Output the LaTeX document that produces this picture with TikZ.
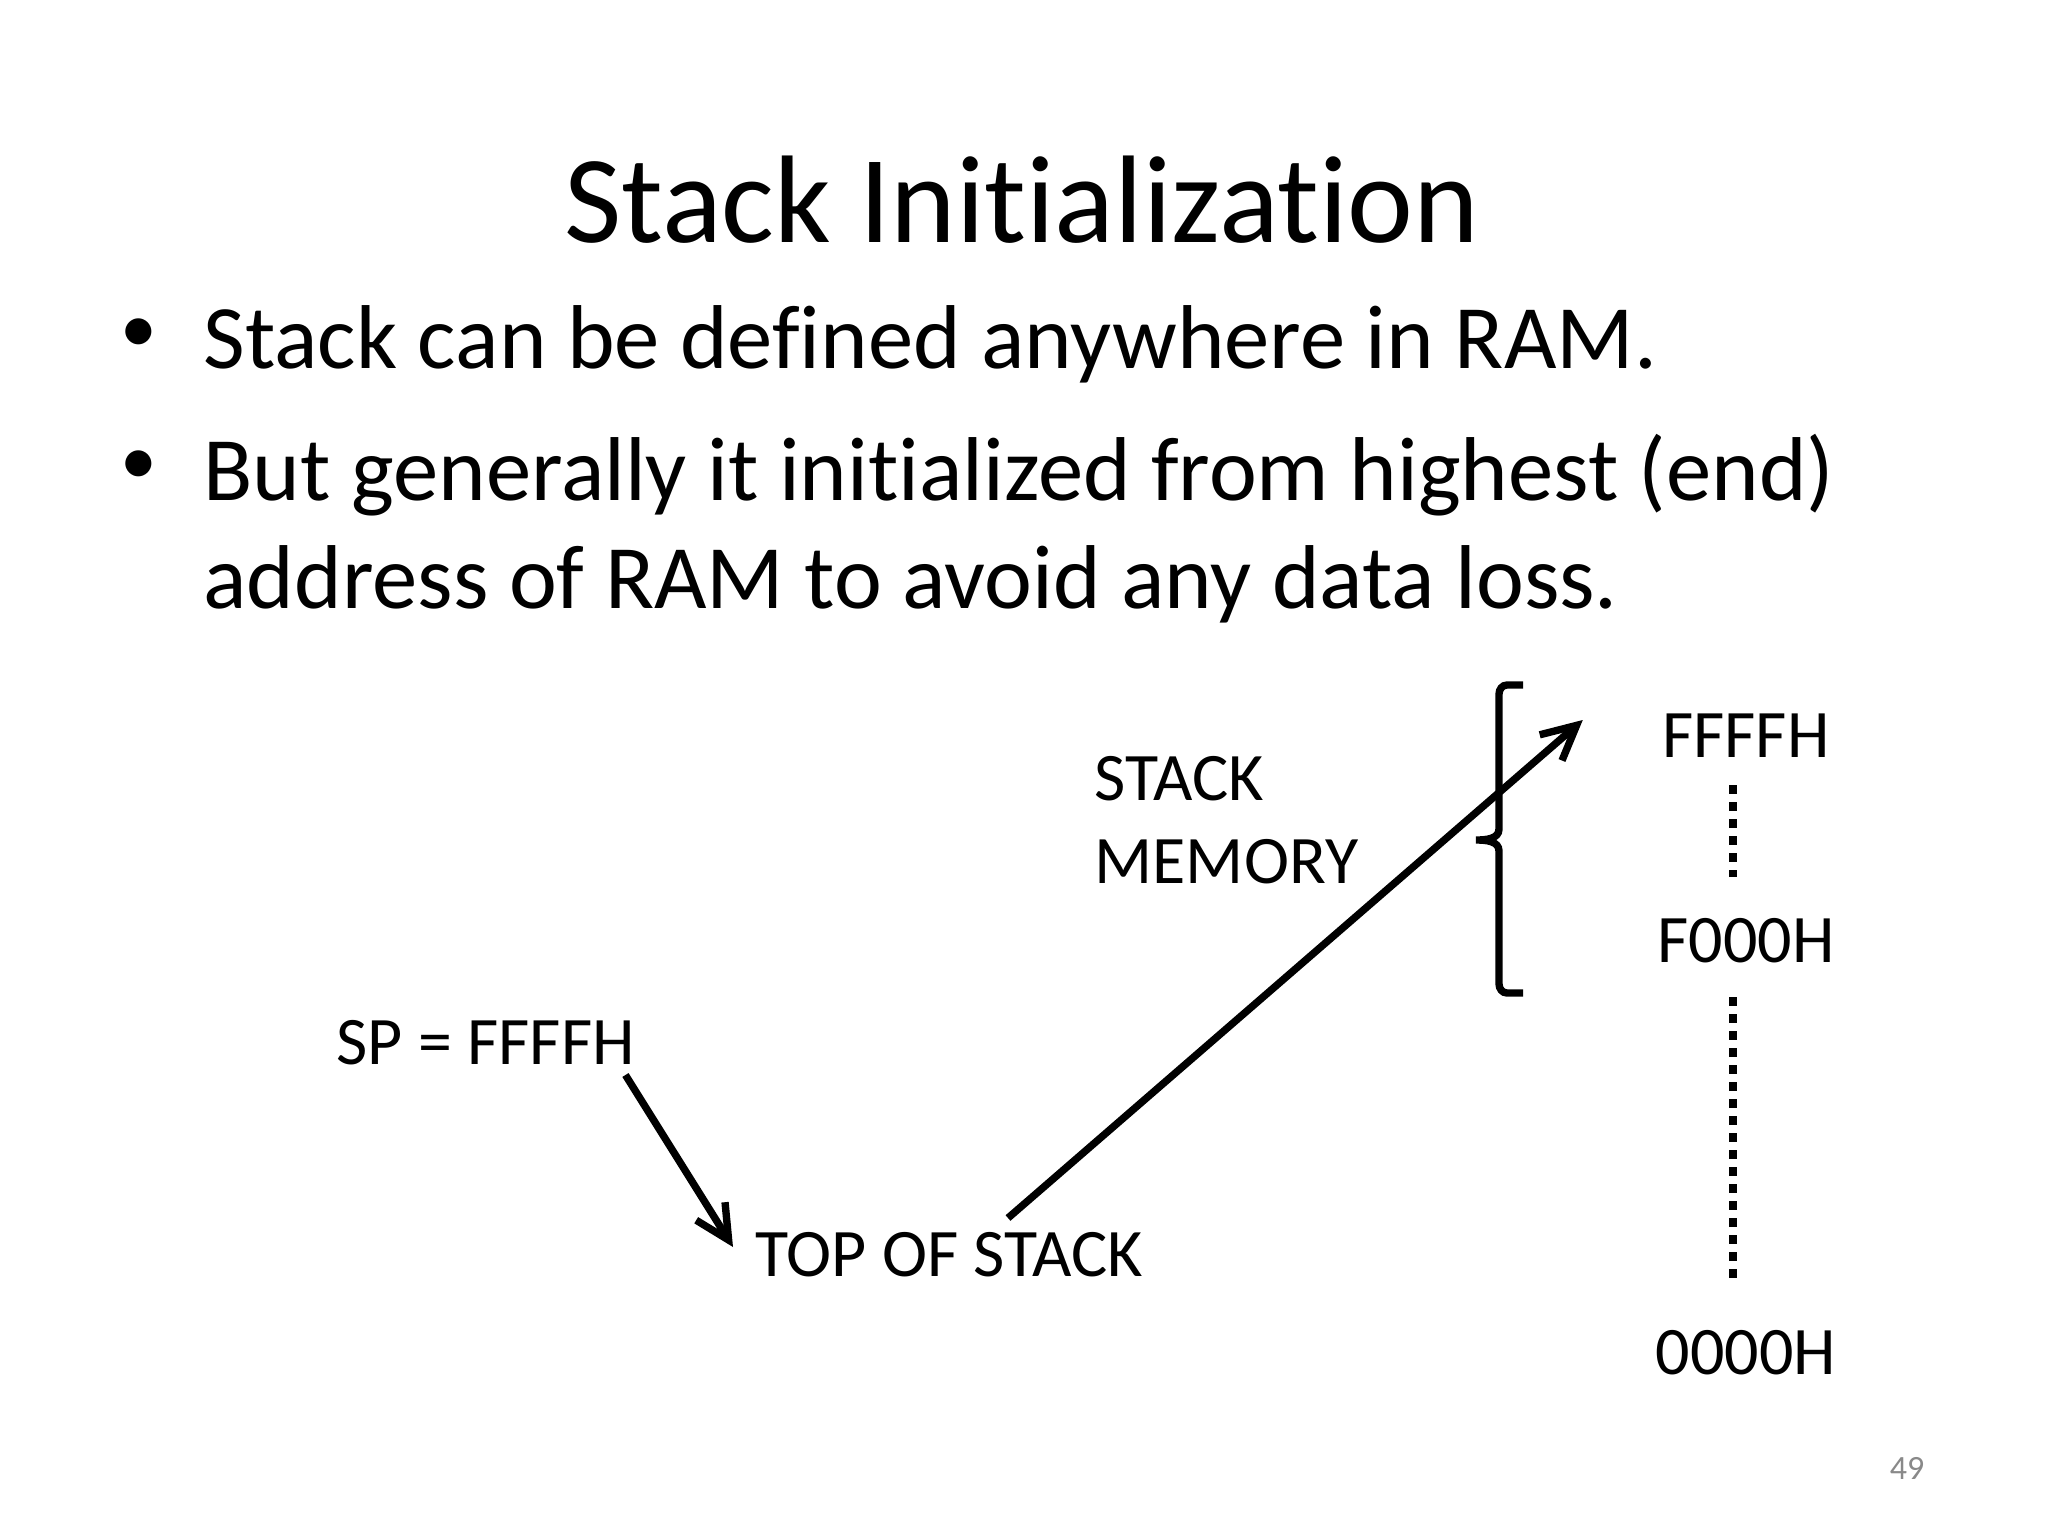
\documentclass[tikz,border=0pt]{standalone}
\usepackage{fontspec}
\setmainfont{Carlito}[Ligatures=NoCommon]
\usetikzlibrary{arrows.meta,calc,positioning}
\definecolor{pgnum}{RGB}{137,137,137}

\begin{document}
\begin{tikzpicture}[x=0.0124023cm,y=-0.0124023cm,>={Straight Barb[length=12pt,width=12pt]},
  txt/.style={inner sep=0pt,anchor=base west},
  lbl/.style={inner sep=0pt,font=\fontsize{24}{29.2}\selectfont},
  conn/.style={line width=2.6pt},
  dotln/.style={line width=3pt,dash pattern=on 3pt off 3pt}]
  \useasboundingbox[fill=white] (0,0) rectangle (2048,1536);
  % title and bullets
  \node[inner sep=0pt,anchor=base,font=\fontsize{44}{53}\selectfont] (title) at (1022,242) {Stack Initialization};
  \node[inner sep=0pt,font=\fontsize{26}{30}\selectfont] (dot1) at (139,336) {•};
  \node[txt,font=\fontsize{32}{38}\selectfont] (l1) at (203,368) {Stack can be defined anywhere in RAM.};
  \node[inner sep=0pt,font=\fontsize{26}{30}\selectfont] (dot2) at (139,468) {•};
  \node[txt,font=\fontsize{32}{38}\selectfont] (l2) at (203,500) {But generally it initialized from highest (end)};
  \node[txt,font=\fontsize{32}{38}\selectfont] (l3) at (203,608) {address of RAM to avoid any data loss.};
  % labels of the diagram
  \node[lbl,anchor=base west] (sp) at (336,1064) {SP = FFFFH};
  \node[lbl,anchor=base west] (top) at (755,1276) {TOP OF STACK};
  \node[lbl,anchor=base west,align=left] (mem) at (1094,883) {STACK\\MEMORY};
  \node[lbl,anchor=base] (ffff) at (1746,757) {FFFFH};
  \node[lbl,anchor=base] (f000) at (1746,962) {F000H};
  \node[lbl,anchor=base] (zero) at (1746,1374) {0000H};
  \node[inner sep=0pt,anchor=base,font=\fontsize{12}{14}\selectfont,text=pgnum] (pg) at (1907,1479) {49};
  % brace round the stack part
  \draw[conn] (1523,685) -- (1507,685) to[out=180,in=90] (1499,694) -- (1499,829)
    to[out=-90,in=0] (1476,840) to[out=0,in=90] (1499,851) -- (1499,984)
    to[out=-90,in=180] (1507,993) -- (1523,993);
  % address axis
  \draw[dotln] ([shift={(-13,28)}]ffff.base) -- ([shift={(-13,-85)}]f000.base);
  \draw[dotln] ([shift={(-13,35)}]f000.base) -- ([shift={(-13,-91)}]zero.base);
  % arrows
  \draw[conn,->] ([shift={(-10,11)}]sp.base east) -- ([shift={(-22,-29)}]top.base west);
  \draw[conn,->] ([shift={(253,-58)}]top.base west) -- ([shift={(-79,-37)}]ffff.base west);
\end{tikzpicture}
\end{document}
